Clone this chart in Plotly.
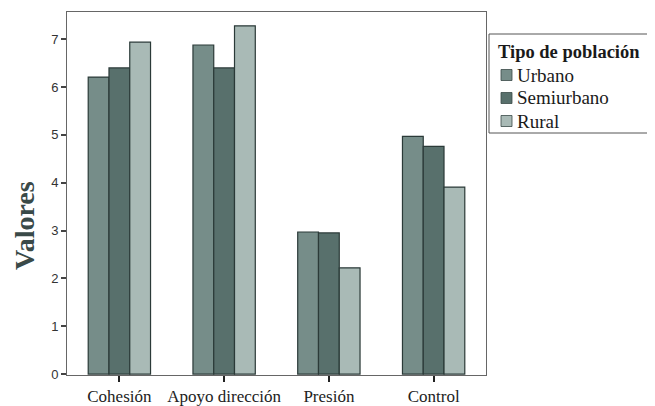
import plotly.graph_objects as go

categories = ["Cohesión", "Apoyo dirección", "Presión", "Control"]
series_names = ["Urbano", "Semiurbano", "Rural"]
urbano = [6.21, 6.88, 2.97, 4.97]
semiurbano = [6.40, 6.40, 2.95, 4.76]
rural = [6.94, 7.28, 2.22, 3.91]
y_ticks = [0, 1, 2, 3, 4, 5, 6, 7]
legend_title = "Tipo de población"
y_title = "Valores"

values = [urbano, semiurbano, rural]
colors = ["#768d89", "#58706c", "#a9bab6"]

# plot area in pixels (page offset 8px by browser body margin)
PX_L, PX_R, PX_T, PX_B = 67, 486, 12, 375


def px(x):
    return (x - PX_L) / (PX_R - PX_L)


def py(y):
    return (PX_B - y) / (PX_B - PX_T)


fig = go.Figure()
for name, vals, col in zip(series_names, values, colors):
    fig.add_trace(go.Bar(
        x=categories, y=vals, name=name, showlegend=False,
        marker=dict(color=col, line=dict(color="#2b3a38", width=1.2)),
    ))

shapes = [dict(type="rect", xref="paper", yref="paper",
               x0=px(489), x1=px(700), y0=py(133), y1=py(34),
               line=dict(color="#555", width=1), fillcolor="white", layer="below")]
annotations = [dict(text="<b>" + legend_title + "</b>", xref="paper", yref="paper",
                    x=px(496), y=py(52), xanchor="left", yanchor="middle", showarrow=False,
                    font=dict(family="Liberation Serif", size=18.5, color="#1a1a1a"))]
for i, (name, col) in enumerate(zip(series_names, colors)):
    yc = 75 + 23 * i
    shapes.append(dict(type="rect", xref="paper", yref="paper",
                       x0=px(501), x1=px(512), y0=py(yc + 5.5), y1=py(yc - 5.5),
                       line=dict(color="#3a4a48", width=0.8), fillcolor=col))
    annotations.append(dict(text=name, xref="paper", yref="paper",
                            x=px(515), y=py(yc), xanchor="left", yanchor="middle",
                            showarrow=False,
                            font=dict(family="Liberation Serif", size=19, color="#1a1a1a")))
annotations.append(dict(text="<b>" + y_title + "</b>", xref="paper", yref="paper",
                        x=px(24), y=py(226), xanchor="center", yanchor="middle",
                        textangle=-90, showarrow=False,
                        font=dict(family="Liberation Serif", size=28, color="#3a4a48")))

fig.update_layout(
    width=655, height=406,
    margin=dict(l=59, r=177, t=4, b=39, autoexpand=False),
    paper_bgcolor="white", plot_bgcolor="white",
    barmode="group", bargap=0.405, bargroupgap=0,
    showlegend=False,
    shapes=shapes, annotations=annotations,
    xaxis=dict(
        showline=True, linecolor="#666", linewidth=1, mirror=True,
        ticks="outside", ticklen=6, tickwidth=2, tickcolor="#222",
        tickfont=dict(family="Liberation Serif", size=17, color="#222"),
        showgrid=False, automargin=False,
    ),
    yaxis=dict(
        range=[-0.02, 7.57],
        tickvals=y_ticks,
        showline=True, linecolor="#666", linewidth=1, mirror=True,
        ticks="outside", ticklen=5, tickwidth=1.5, tickcolor="#444",
        tickfont=dict(family="Liberation Sans", size=13, color="#333"),
        showgrid=False, zeroline=False, automargin=False,
    ),
)

fig.write_html("out.html")
